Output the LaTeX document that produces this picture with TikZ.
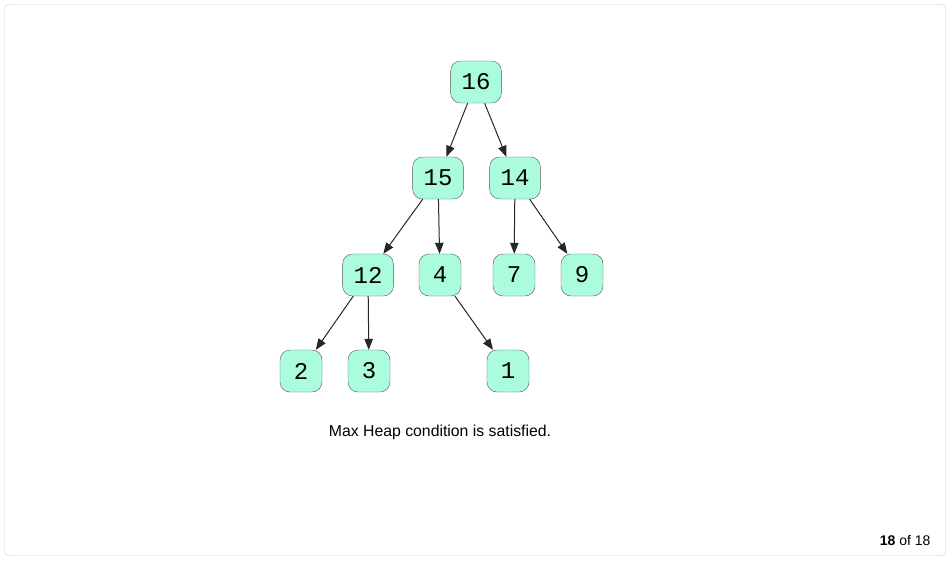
\documentclass[tikz,border=0pt]{standalone}
\usepackage{fontspec}
\setmainfont{Liberation Sans}
\newfontfamily\heapmono{Liberation Mono}
\usetikzlibrary{arrows.meta}
\definecolor{heapfill}{HTML}{AAFCDC}
\definecolor{heapline}{HTML}{555555}
\definecolor{framegray}{HTML}{CCCCCC}
\tikzset{
  heapnode/.style={draw=heapline, fill=heapfill, rounded corners=10pt, minimum height=42pt, minimum width=42pt, inner xsep=11pt, font=\heapmono\fontsize{24}{24}\selectfont},
  heapedge/.style={draw=black!85, line width=1pt, -{Triangle[length=11pt,width=8.5pt]}}
}
\begin{document}
\begin{tikzpicture}[x=1pt,y=-1pt]
    % Frame
    \useasboundingbox (0,0) rectangle (950,560);
    \draw[framegray, rounded corners=4pt] (4.5,4.5) rectangle (945.5,555.5);

    % Heap nodes
    \node[heapnode] (n16) at (476,82)  {16};
    \node[heapnode] (n15) at (438,178) {15};
    \node[heapnode] (n14) at (515,178) {14};
    \node[heapnode] (n12) at (368,275) {12};
    \node[heapnode] (n4)  at (440,275) {4};
    \node[heapnode] (n7)  at (514,275) {7};
    \node[heapnode] (n9)  at (582,275) {9};
    \node[heapnode] (n2)  at (301,371) {2};
    \node[heapnode] (n3)  at (369,371) {3};
    \node[heapnode] (n1)  at (508,371) {1};

    % Edges
    \draw[heapedge] (n16) -- (n15);
    \draw[heapedge] (n16) -- (n14);
    \draw[heapedge] (n15) -- (n12);
    \draw[heapedge] (n15) -- (n4);
    \draw[heapedge] (n14) -- (n7);
    \draw[heapedge] (n14) -- (n9);
    \draw[heapedge] (n12) -- (n2);
    \draw[heapedge] (n12) -- (n3);
    \draw[heapedge] (n4)  -- (n1);

    % Caption
    \node[font=\fontsize{15.8}{16}\selectfont] (caption) at (440,432) {Max Heap condition is satisfied.};
    \node[font=\fontsize{14}{14}\selectfont, anchor=east] (pager) at (934,540) {\textbf{18} of 18};
\end{tikzpicture}
\end{document}
